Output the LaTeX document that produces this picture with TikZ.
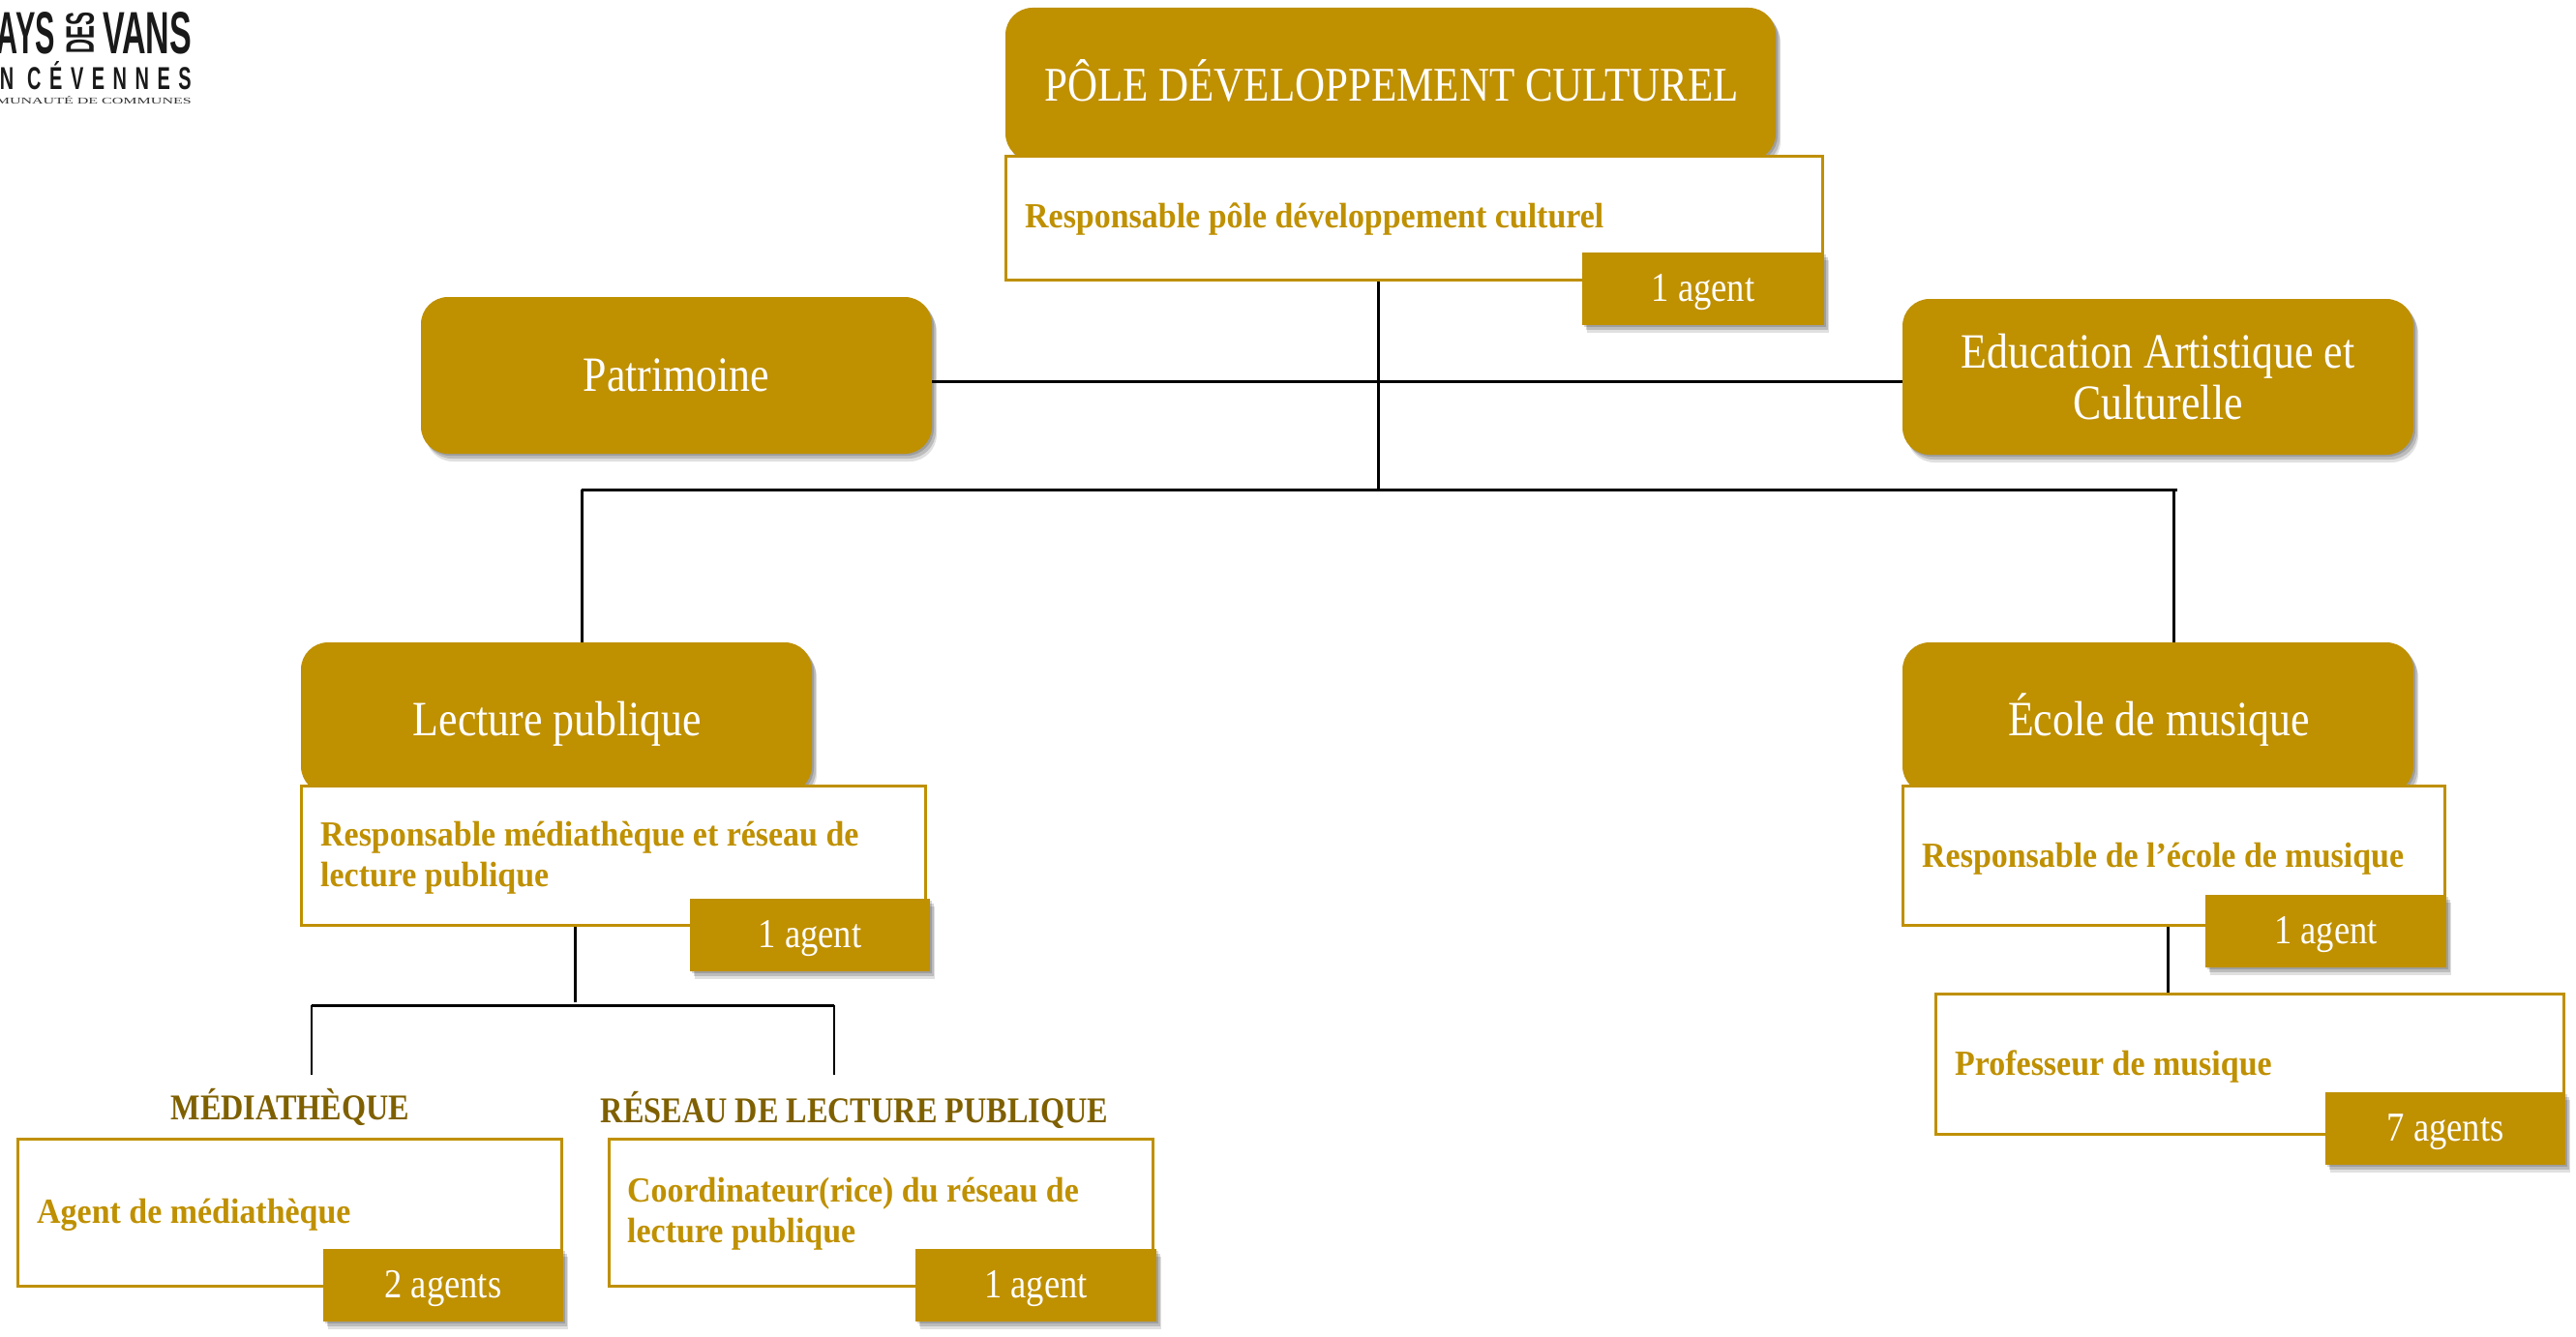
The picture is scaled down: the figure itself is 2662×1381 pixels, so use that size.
\documentclass[tikz,border=0pt]{standalone}
\usepackage{fontspec}
\usepackage{graphicx}
\usetikzlibrary{shadows,calc}
\setmainfont{Liberation Serif}[FakeStretch=0.86]
\newfontfamily\rolefont{Liberation Serif}[FakeStretch=0.93]
\newfontfamily\logofont{Liberation Sans}[FakeStretch=0.7]
\definecolor{gold}{HTML}{BF9000}
\definecolor{darkgold}{HTML}{7F6000}
\tikzset{
  x=1pt,y=-1pt,
  softshadow/.style={
    general shadow={shadow xshift=2pt,shadow yshift=-2pt,opacity=.16,fill=black},
    general shadow={shadow xshift=4pt,shadow yshift=-5pt,opacity=.16,fill=black},
    general shadow={shadow xshift=5pt,shadow yshift=-8pt,opacity=.12,fill=black}},
  headbox/.style={fill=gold,rounded corners=28pt,text=white,inner sep=0pt,align=center,font=\fontsize{51}{53}\selectfont,softshadow},
  headtitle/.style={text=white,inner sep=0pt,font=\fontsize{51}{53}\selectfont},
  rolebox/.style={fill=white,draw=gold,line width=3pt,inner sep=0pt},
  countbox/.style={fill=gold,text=white,inner sep=0pt,text height=36pt,text depth=9.4pt,font=\fontsize{42.5}{42}\selectfont,softshadow},
  roletext/.style={text=gold,inner sep=0pt,anchor=west,align=left,font=\fontsize{36.5}{42}\rolefont\bfseries},
  sectiontext/.style={text=darkgold,inner sep=0pt,font=\fontsize{37.5}{40}\selectfont\bfseries},
  link/.style={draw=black,line width=3pt},
  logotext/.style={inner sep=0pt,text=black!90,font=\logofont\bfseries},
}
\begin{document}
\begin{tikzpicture}
\useasboundingbox (0,0) rectangle (2662,1381);
% junctions
\coordinate (topstart) at (1424,289);
\coordinate (topstem) at (1424,506);
\coordinate (branchL) at (601,506);
\coordinate (branchE) at (2250,506);
\coordinate (branchR) at (2246,506);
\coordinate (midcross) at (1424,394);
\coordinate (libstart) at (594,956);
\coordinate (libstemend) at (594,1036);
\coordinate (forkL) at (322,1039);
\coordinate (forkR) at (862,1039);
\coordinate (forkLend) at (322,1111);
\coordinate (forkRend) at (862,1111);
\coordinate (musstem) at (2240,956);
\coordinate (musstemend) at (2240,1027);

% header boxes
\node[headbox,minimum width=796pt,minimum height=158pt] (pole) at (1437,87) {};
\node[headbox,minimum width=528pt,minimum height=162pt] (patrimoine) at (699,388) {Patrimoine};
\node[headbox,minimum width=528pt,minimum height=161pt] (education) at (2230,389.5) {Education Artistique et\\Culturelle};
\node[headbox,minimum width=528pt,minimum height=156pt] (lecture) at (575,742) {};
\node[headbox,minimum width=528pt,minimum height=156pt] (ecole) at (2230,742) {};
\node[headtitle,font=\fontsize{50}{53}\selectfont] (poletitle) at (1438,83) {PÔLE DÉVELOPPEMENT CULTUREL};
\node[headtitle] (lecturetitle) at (576,748) {Lecture publique};
\node[headtitle] (ecoletitle) at (2231,744) {École de musique};

% connectors
\draw[link] (topstart) -- (topstem);
\draw[link] (patrimoine.east |- midcross) -- (education.west |- midcross);
\draw[link] (branchL) -- (branchE);
\draw[link] (branchL) -- (lecture.north -| branchL);
\draw[link] (branchR) -- (ecole.north -| branchR);
\draw[link] (libstart) -- (libstemend);
\draw[link] (forkL) -- (forkR);
\draw[link,line width=2.5pt] (forkL) -- (forkLend);
\draw[link,line width=2.5pt] (forkR) -- (forkRend);
\draw[link] (musstem) -- (musstemend);

% role boxes
\node[rolebox,minimum width=844pt,minimum height=128pt] (polerole) at (1461,225) {};
\node[roletext] (poleroletext) at (1059,226.5) {Responsable pôle développement culturel};
\node[countbox,minimum width=250pt,minimum height=75pt] (polecount) at (1760,298.5) {1 agent};

\node[rolebox,minimum width=645pt,minimum height=144pt] (librole) at (633.5,884) {};
\node[roletext] (libroletext) at (331,886.5) {Responsable médiathèque et réseau de\\lecture publique};
\node[countbox,minimum width=248pt,minimum height=75pt] (libcount) at (837,966.5) {1 agent};

\node[rolebox,minimum width=560pt,minimum height=144pt] (musrole) at (2246,884) {};
\node[roletext] (musroletext) at (1986,887.5) {Responsable de l’école de musique};
\node[countbox,minimum width=249pt,minimum height=75pt] (muscount) at (2403.5,962.5) {1 agent};

\node[rolebox,minimum width=649pt,minimum height=145pt] (profrole) at (2324.5,1099.5) {};
\node[roletext] (profroletext) at (2020,1103) {Professeur de musique};
\node[countbox,minimum width=248pt,minimum height=75pt] (profcount) at (2527,1166.5) {7 agents};

\node[sectiontext] (medlabel) at (300,1144) {MÉDIATHÈQUE};
\node[sectiontext] (reslabel) at (883,1147) {RÉSEAU DE LECTURE PUBLIQUE};

\node[rolebox,minimum width=562pt,minimum height=152pt] (medrole) at (299,1253) {};
\node[roletext] (medroletext) at (38,1255.5) {Agent de médiathèque};
\node[countbox,minimum width=248pt,minimum height=75pt] (medcount) at (458,1328.5) {2 agents};

\node[rolebox,minimum width=562pt,minimum height=152pt] (resrole) at (910,1253) {};
\node[roletext] (resroletext) at (648,1255) {Coordinateur(rice) du réseau de\\lecture publique};
\node[countbox,minimum width=249pt,minimum height=75pt] (rescount) at (1070.5,1328.5) {1 agent};

% logo (cut by the left edge of the picture)
\node[logotext,anchor=north east] (logoa) at (57,12) {\resizebox{60pt}{43pt}{AYS}};
\node[logotext,anchor=north west] (logob) at (68,12) {\resizebox{29pt}{43pt}{\rotatebox{90}{DES}}};
\node[logotext,anchor=north west] (logoc) at (106,12) {\resizebox{92pt}{43pt}{VANS}};
\node[logotext,anchor=north east] (logod) at (198,63) {\resizebox{198pt}{29pt}{\addfontfeature{LetterSpace=30}N CÉVENNES}};
\node[inner sep=0pt,anchor=north east,text=black!80] (logoe) at (198,99.5) {\resizebox{202pt}{8pt}{\rmfamily MUNAUTÉ DE COMMUNES}};
\end{tikzpicture}
\end{document}
